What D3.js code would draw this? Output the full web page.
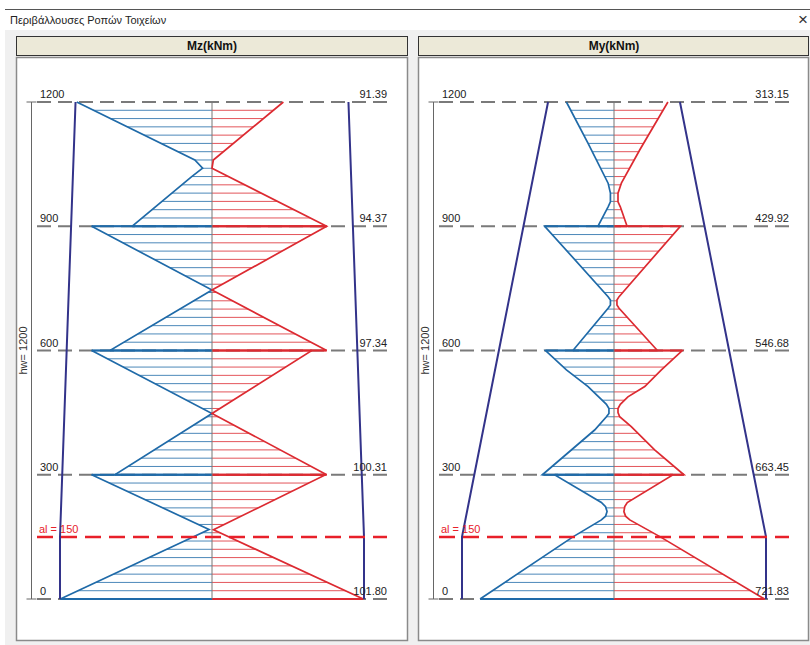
<!DOCTYPE html>
<html>
<head>
<meta charset="utf-8">
<script src="https://cdnjs.cloudflare.com/ajax/libs/d3/7.8.5/d3.min.js"></script>
<style>
body { margin: 0; background: #fff; }
text { font-family: "Liberation Sans", Arial, sans-serif; }
</style>
</head>
<body>
<div id="chart"></div>
<script>
// storey levels (cm) and the al shift
var levels = [0, 300, 600, 900, 1200];
var al = 150;
var hw = 1200;

// outer (capacity) envelope, heights + values
var capH = [0, 150, 300, 600, 900, 1200];
var mzCap = [101.80, 101.80, 100.31, 97.34, 94.37, 91.39];
var myCap = [721.83, 721.83, 663.45, 546.68, 429.92, 313.15];

// Mz envelope: negative side (blue) and positive side (red)
var mzNegH = [0, 168, 300, 300, 448, 600, 600, 746, 900, 900, 1020, 1040, 1060, 1200];
var mzNeg = [-101.6, -2, -80.6, -65.0, 0, -80.6, -68.3, 0, -80.6, -53.4, -13.6, -6.3, -11.5, -90.6];
var mzPosH = [0, 167, 300, 300, 448, 600, 600, 746, 900, 900, 1040, 1060, 1200];
var mzPos = [101.3, 1, 76.0, 76.8, 0, 66.8, 76.8, 0, 76.8, 76.8, 0, 0.9, 47.8];

// My envelope
var myNegH = [0, 150, 191, 200, 211, 223, 233, 300, 300, 408, 440, 448, 460, 470, 513, 553, 600,
              600, 702, 710, 722, 730, 900, 900, 947, 959, 980, 1004, 1100, 1200];
var myNeg = [-636, -195, -60, -40, -33, -40, -60, -282, -340, -92, -36, -24, -24, -36, -123, -226, -325,
             -195, -28, -17, -17, -28, -329, -76, -28, -17, -17, -28, -123, -226];
var myPosH = [0, 150, 191, 200, 211, 223, 233, 300, 300, 360, 416, 440, 450, 460, 470, 488, 513, 553, 600,
              600, 702, 710, 722, 730, 900, 900, 947, 959, 980, 1004, 1084, 1200];
var myPos = [715, 220, 75, 55, 47, 51, 63, 280, 332, 193, 82, 27, 19, 19, 30, 66, 146, 225, 324,
             206, 24, 14, 14, 24, 315, 62, 30, 19, 19, 35, 122, 256];

var width = 810, height = 645;
var blue = "#1f6aa8", red = "#dc2a31", navy = "#33338a";

var svg = d3.select("#chart").append("svg")
    .attr("width", width)
    .attr("height", height);

// window frame
svg.append("rect").attr("width", width).attr("height", height).attr("fill", "#fff");
svg.append("rect").attr("x", 5).attr("y", 30).attr("width", 805).attr("height", 615).attr("fill", "#f0f0f0");
svg.append("line").attr("x1", 5).attr("x2", 810).attr("y1", 9.5).attr("y2", 9.5)
    .attr("stroke", "#555").attr("stroke-width", 1);
svg.append("text").attr("x", 10).attr("y", 24).text("Περιβάλλουσες Ροπών Τοιχείων")
    .style("font-size", "11px").attr("fill", "#222");
svg.append("text").attr("x", 803).attr("y", 25).attr("text-anchor", "middle").text("×")
    .style("font-size", "17px").attr("fill", "#333");

var y = d3.scaleLinear().domain([0, hw]).range([599, 102]);

function drawPanel(dx, title, max, cap, negH, neg, posH, pos, id) {
    var cx = 212 + dx;
    var x = d3.scaleLinear().domain([-max, max]).range([cx - 152, cx + 152]);
    var g = svg.append("g");

    // header + body
    g.append("rect").attr("x", 16.5 + dx).attr("y", 36.5).attr("width", dx ? 390 : 391).attr("height", 19)
        .attr("fill", "#ece9d8").attr("stroke", "#333");
    g.append("text").attr("x", cx).attr("y", 50).attr("text-anchor", "middle")
        .style("font-size", "12px").style("font-weight", "bold").attr("fill", "#111").text(title);
    g.append("rect").attr("x", 16.5 + dx).attr("y", 57.5).attr("width", dx ? 390 : 391).attr("height", 583)
        .attr("fill", "#fff").attr("stroke", "#8a8a8a").attr("stroke-width", 1.5);

    // storey level dashes
    g.selectAll(".lvl").data(levels).enter().append("line")
        .attr("x1", 37 + dx).attr("x2", 387 + dx)
        .attr("y1", function (d) { return y(d); }).attr("y2", function (d) { return y(d); })
        .attr("stroke", "#7a7a7a").attr("stroke-width", 2).attr("stroke-dasharray", "14,7");

    var negData = d3.zip(negH, neg), posData = d3.zip(posH, pos);
    var area = d3.area()
        .x0(cx)
        .x1(function (d) { return x(d[1]); })
        .y(function (d) { return y(d[0]); });

    var defs = svg.append("defs");
    defs.append("clipPath").attr("id", id + "neg").append("path").attr("d", area(negData));
    defs.append("clipPath").attr("id", id + "pos").append("path").attr("d", area(posData));

    // hatch lines every 20 cm
    var hatch = d3.range(0, hw, 20);
    [["neg", blue], ["pos", red]].forEach(function (s) {
        g.append("g").attr("clip-path", "url(#" + id + s[0] + ")")
            .selectAll("line").data(hatch).enter().append("line")
            .attr("x1", cx - 160).attr("x2", cx + 160)
            .attr("y1", function (d) { return y(d); }).attr("y2", function (d) { return y(d); })
            .attr("stroke", s[1]).attr("stroke-opacity", 0.8).attr("stroke-width", 1);
    });

    // thicker hatch at the storey levels
    var floorPts = negData.concat(posData).filter(function (d) { return levels.indexOf(d[0]) >= 0 && d[0] < hw; });
    g.selectAll(".fl").data(floorPts).enter().append("line")
        .attr("x1", cx).attr("x2", function (d) { return x(d[1]); })
        .attr("y1", function (d) { return y(d[0]); }).attr("y2", function (d) { return y(d[0]); })
        .attr("stroke", function (d) { return d[1] < 0 ? blue : red; }).attr("stroke-width", 2);

    // centre line
    g.append("line").attr("x1", cx).attr("x2", cx).attr("y1", y(0)).attr("y2", y(hw))
        .attr("stroke", "#777").attr("stroke-width", 1);

    // envelope curves
    var line = d3.line()
        .x(function (d) { return x(d[1]); })
        .y(function (d) { return y(d[0]); });
    g.append("path").attr("d", line(negData)).attr("fill", "none").attr("stroke", blue).attr("stroke-width", 1.7);
    g.append("path").attr("d", line(posData)).attr("fill", "none").attr("stroke", red).attr("stroke-width", 1.7);

    // capacity envelope
    var capData = d3.zip(capH, cap);
    g.append("path").attr("d", line(capData.map(function (d) { return [d[0], -d[1]]; })))
        .attr("fill", "none").attr("stroke", navy).attr("stroke-width", 2);
    g.append("path").attr("d", line(capData))
        .attr("fill", "none").attr("stroke", navy).attr("stroke-width", 2);

    // al line
    g.append("line").attr("x1", 37 + dx).attr("x2", 387 + dx).attr("y1", y(al)).attr("y2", y(al))
        .attr("stroke", "#e8202a").attr("stroke-width", 2.5).attr("stroke-dasharray", "16,8");
    g.append("text").attr("x", 39 + dx).attr("y", y(al) - 4).text("al = " + al)
        .style("font-size", "11px").attr("fill", "#e8202a");

    // level labels
    g.selectAll(".ll").data(levels).enter().append("text")
        .attr("x", 40 + dx).attr("y", function (d) { return y(d) - 4; })
        .style("font-size", "11px").attr("fill", "#222")
        .text(function (d) { return d; });
    g.selectAll(".vl").data(levels).enter().append("text")
        .attr("x", 387 + dx).attr("y", function (d) { return y(d) - 4; })
        .attr("text-anchor", "end").style("font-size", "11px").attr("fill", "#222")
        .text(function (d) { return cap[capH.indexOf(d)].toFixed(2); });

    // wall height axis
    var ax = 31.5 + dx;
    g.append("line").attr("x1", ax).attr("x2", ax).attr("y1", y(0)).attr("y2", y(hw))
        .attr("stroke", "#666");
    [0, hw].forEach(function (h) {
        g.append("line").attr("x1", ax - 5).attr("x2", ax + 5).attr("y1", y(h)).attr("y2", y(h))
            .attr("stroke", "#666");
    });
    g.append("text").attr("transform", "translate(" + (27 + dx) + "," + y(hw / 2) + ") rotate(-90)")
        .attr("text-anchor", "middle").style("font-size", "11px").attr("fill", "#333")
        .text("hw= " + hw);
}

drawPanel(0, "Mz(kNm)", mzCap[0], mzCap, mzNegH, mzNeg, mzPosH, mzPos, "mz");
drawPanel(402, "My(kNm)", myCap[0], myCap, myNegH, myNeg, myPosH, myPos, "my");
</script>
</body>
</html>
